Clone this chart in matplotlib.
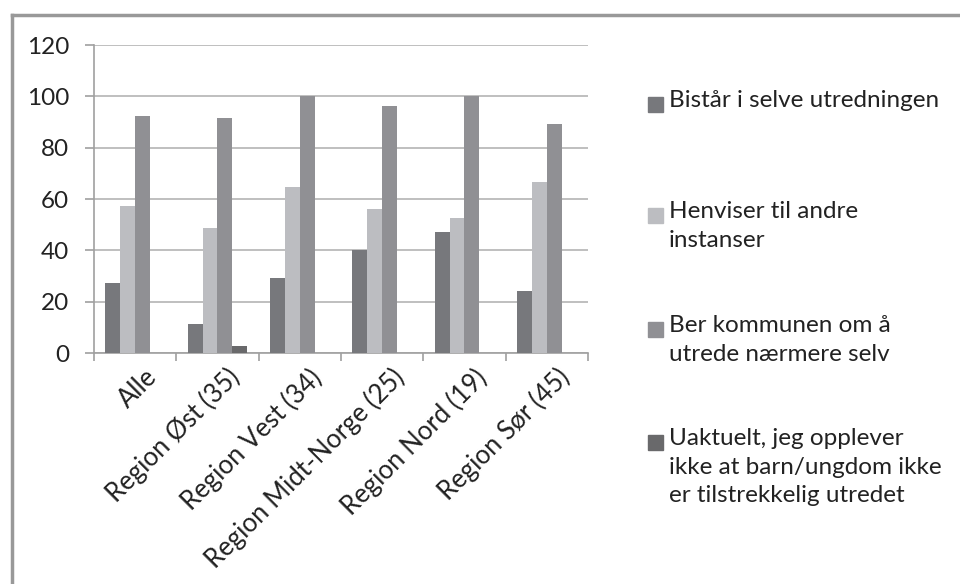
import numpy as np
import matplotlib.pyplot as plt
import matplotlib.transforms as mtransforms
from matplotlib.patches import Rectangle
from matplotlib.lines import Line2D

# data
categories = ["Alle", "Region Øst (35)", "Region Vest (34)", "Region Midt-Norge (25)",
              "Region Nord (19)", "Region Sør (45)"]
bistar = [27.3, 11.3, 29.2, 40.0, 47.1, 24.3]
henviser = [57.4, 48.7, 64.8, 56.2, 52.7, 66.6]
ber_kommunen = [92.2, 91.7, 100.0, 96.2, 100.0, 89.2]
uaktuelt = [0, 2.7, 0, 0, 0, 0]
series_labels = ["Bistår i selve utredningen",
                 "Henviser til andre\ninstanser",
                 "Ber kommunen om å\nutrede nærmere selv",
                 "Uaktuelt, jeg opplever\nikke at barn/ungdom ikke\ner tilstrekkelig utredet"]
y_ticks = [0, 20, 40, 60, 80, 100, 120]

colors = ["#77787c", "#bcbdc1", "#909094", "#69696b"]
series = [bistar, henviser, ber_kommunen, uaktuelt]

plt.rcParams['font.family'] = ['Lato', 'DejaVu Sans']
FS = 17.5
TXT = "#222222"

fig = plt.figure(figsize=(9.6, 5.84), dpi=100, facecolor="white")

# outer chart frame (top and left edges visible)
fig.add_artist(Line2D([12/960, 12/960], [0, 1 - 15/584], transform=fig.transFigure,
                      color="#999999", lw=2.5))
fig.add_artist(Line2D([12/960, 1], [1 - 15/584, 1 - 15/584], transform=fig.transFigure,
                      color="#999999", lw=2.5))

ax = fig.add_axes([94/960, 1 - 353/584, (588 - 94)/960, (353 - 45)/584])

x = np.arange(len(categories))
w = 0.182
for i, (vals, c) in enumerate(zip(series, colors)):
    ax.bar(x + (i - 1.5) * w, vals, width=w, color=c, zorder=3)

ax.set_xlim(-0.5, len(categories) - 0.5)
ax.set_ylim(0, 120)
ax.set_yticks(y_ticks)
ax.set_yticklabels([str(v) for v in y_ticks], fontsize=FS, color=TXT)
ax.yaxis.grid(True, color="#b4b4b4", lw=1.2, zorder=0)
ax.set_axisbelow(True)

ax.set_xticks(x)
ax.set_xticklabels(categories, rotation=45, ha="right", rotation_mode="anchor",
                   fontsize=18.5, color=TXT)
ax.tick_params(axis="x", length=0, pad=8)
shift = mtransforms.ScaledTranslation(9/100, 0, fig.dpi_scale_trans)
for lab in ax.get_xticklabels():
    lab.set_transform(lab.get_transform() + shift)
ax.set_xticks(np.arange(-0.5, len(categories)), minor=True)
ax.tick_params(axis="x", which="minor", length=6, color="#a0a0a0", width=1.2)
ax.tick_params(axis="y", length=6.5, color="#a0a0a0", width=1.2, pad=11.5)

for s in ["top", "right"]:
    ax.spines[s].set_visible(False)
for s in ["left", "bottom"]:
    ax.spines[s].set_color("#a0a0a0")
    ax.spines[s].set_linewidth(1.2)

# legend drawn by hand so entries sit at the spacing used on the right side
legend_top = [97, 208, 322, 435]
for yy, lab, c in zip(legend_top, series_labels, colors):
    fig.add_artist(Rectangle((648/960, 1 - (yy + 15)/584), 15/960, 15/584,
                             transform=fig.transFigure, color=c))
    fig.text(669/960, 1 - (yy - 7)/584, lab, fontsize=FS, color=TXT,
             va="top", ha="left", linespacing=1.45)

fig.savefig("out.png", dpi=100, facecolor="white")
